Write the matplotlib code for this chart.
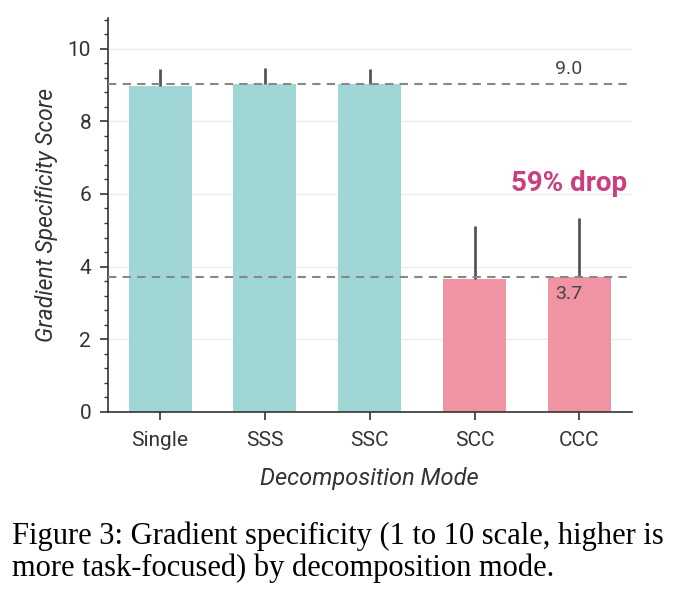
import numpy as np
import matplotlib.pyplot as plt
from matplotlib.ticker import MultipleLocator

modes = ["Single", "SSS", "SSC", "SCC", "CCC"]
scores = [8.97, 9.02, 9.02, 3.67, 3.71]
err_up = [0.48, 0.46, 0.43, 1.45, 1.63]
colors = ["#A1D6D7", "#A1D6D7", "#A1D6D7", "#F093A3", "#F093A3"]
ref_high = 9.03
ref_low = 3.70

plt.rcParams["font.family"] = ["Roboto", "DejaVu Sans"]

fig = plt.figure(figsize=(6.86, 6.12), dpi=100)
ax = fig.add_axes([0.157, 0.327, 0.764, 0.644])

x = np.arange(len(modes))
ax.bar(x, scores, width=0.6, color=colors, zorder=2)
ax.errorbar(x, scores, yerr=[np.zeros(len(x)), err_up], fmt="none",
            ecolor="#555555", elinewidth=2, capsize=0, zorder=3)

ax.axhline(ref_high, color="#888888", linestyle="--", linewidth=1.5, dashes=(4, 3), zorder=4)
ax.axhline(ref_low, color="#888888", linestyle="--", linewidth=1.5, dashes=(4, 3), zorder=4)
ax.text(3.9, ref_high + 0.17, f"{ref_high:.1f}", ha="center", va="bottom", fontsize=14, color="#444444")
ax.text(3.9, ref_low - 0.2, f"{ref_low:.1f}", ha="center", va="top", fontsize=14, color="#444444")
drop = (1 - ref_low / ref_high) * 100
ax.text(3.9, 6.3, f"{drop:.0f}% drop", ha="center", va="center", fontsize=20,
        fontweight="bold", color="#C8407F")

ax.set_xlim(-0.5, 4.5)
ax.set_ylim(0, 10.85)
ax.set_xticks(x)
ax.set_xticklabels(modes)
ax.yaxis.set_major_locator(MultipleLocator(2))
ax.yaxis.set_minor_locator(MultipleLocator(0.4))
ax.grid(axis="y", color="#EBEBEB", linewidth=1, zorder=0)
for s in ["top", "right"]:
    ax.spines[s].set_visible(False)
for s in ["left", "bottom"]:
    ax.spines[s].set_color("#333333")
    ax.spines[s].set_linewidth(1.2)
ax.tick_params(axis="both", labelsize=15, colors="#333333", length=6, width=1.2, pad=6)
ax.tick_params(axis="x", pad=8)
ax.tick_params(axis="y", which="minor", length=3, width=1, colors="#333333")
ax.set_ylabel("Gradient Specificity Score", fontsize=16.5, style="italic", color="#333333", labelpad=7)
ax.set_xlabel("Decomposition Mode", fontsize=17, style="italic", color="#333333", labelpad=12)

fig.text(0.018, 0.148, "Figure 3: Gradient specificity (1 to 10 scale, higher is\nmore task-focused) by decomposition mode.",
         fontsize=22, family="Liberation Serif", va="top", ha="left", linespacing=1.1)

fig.savefig("out.png", dpi=100)
